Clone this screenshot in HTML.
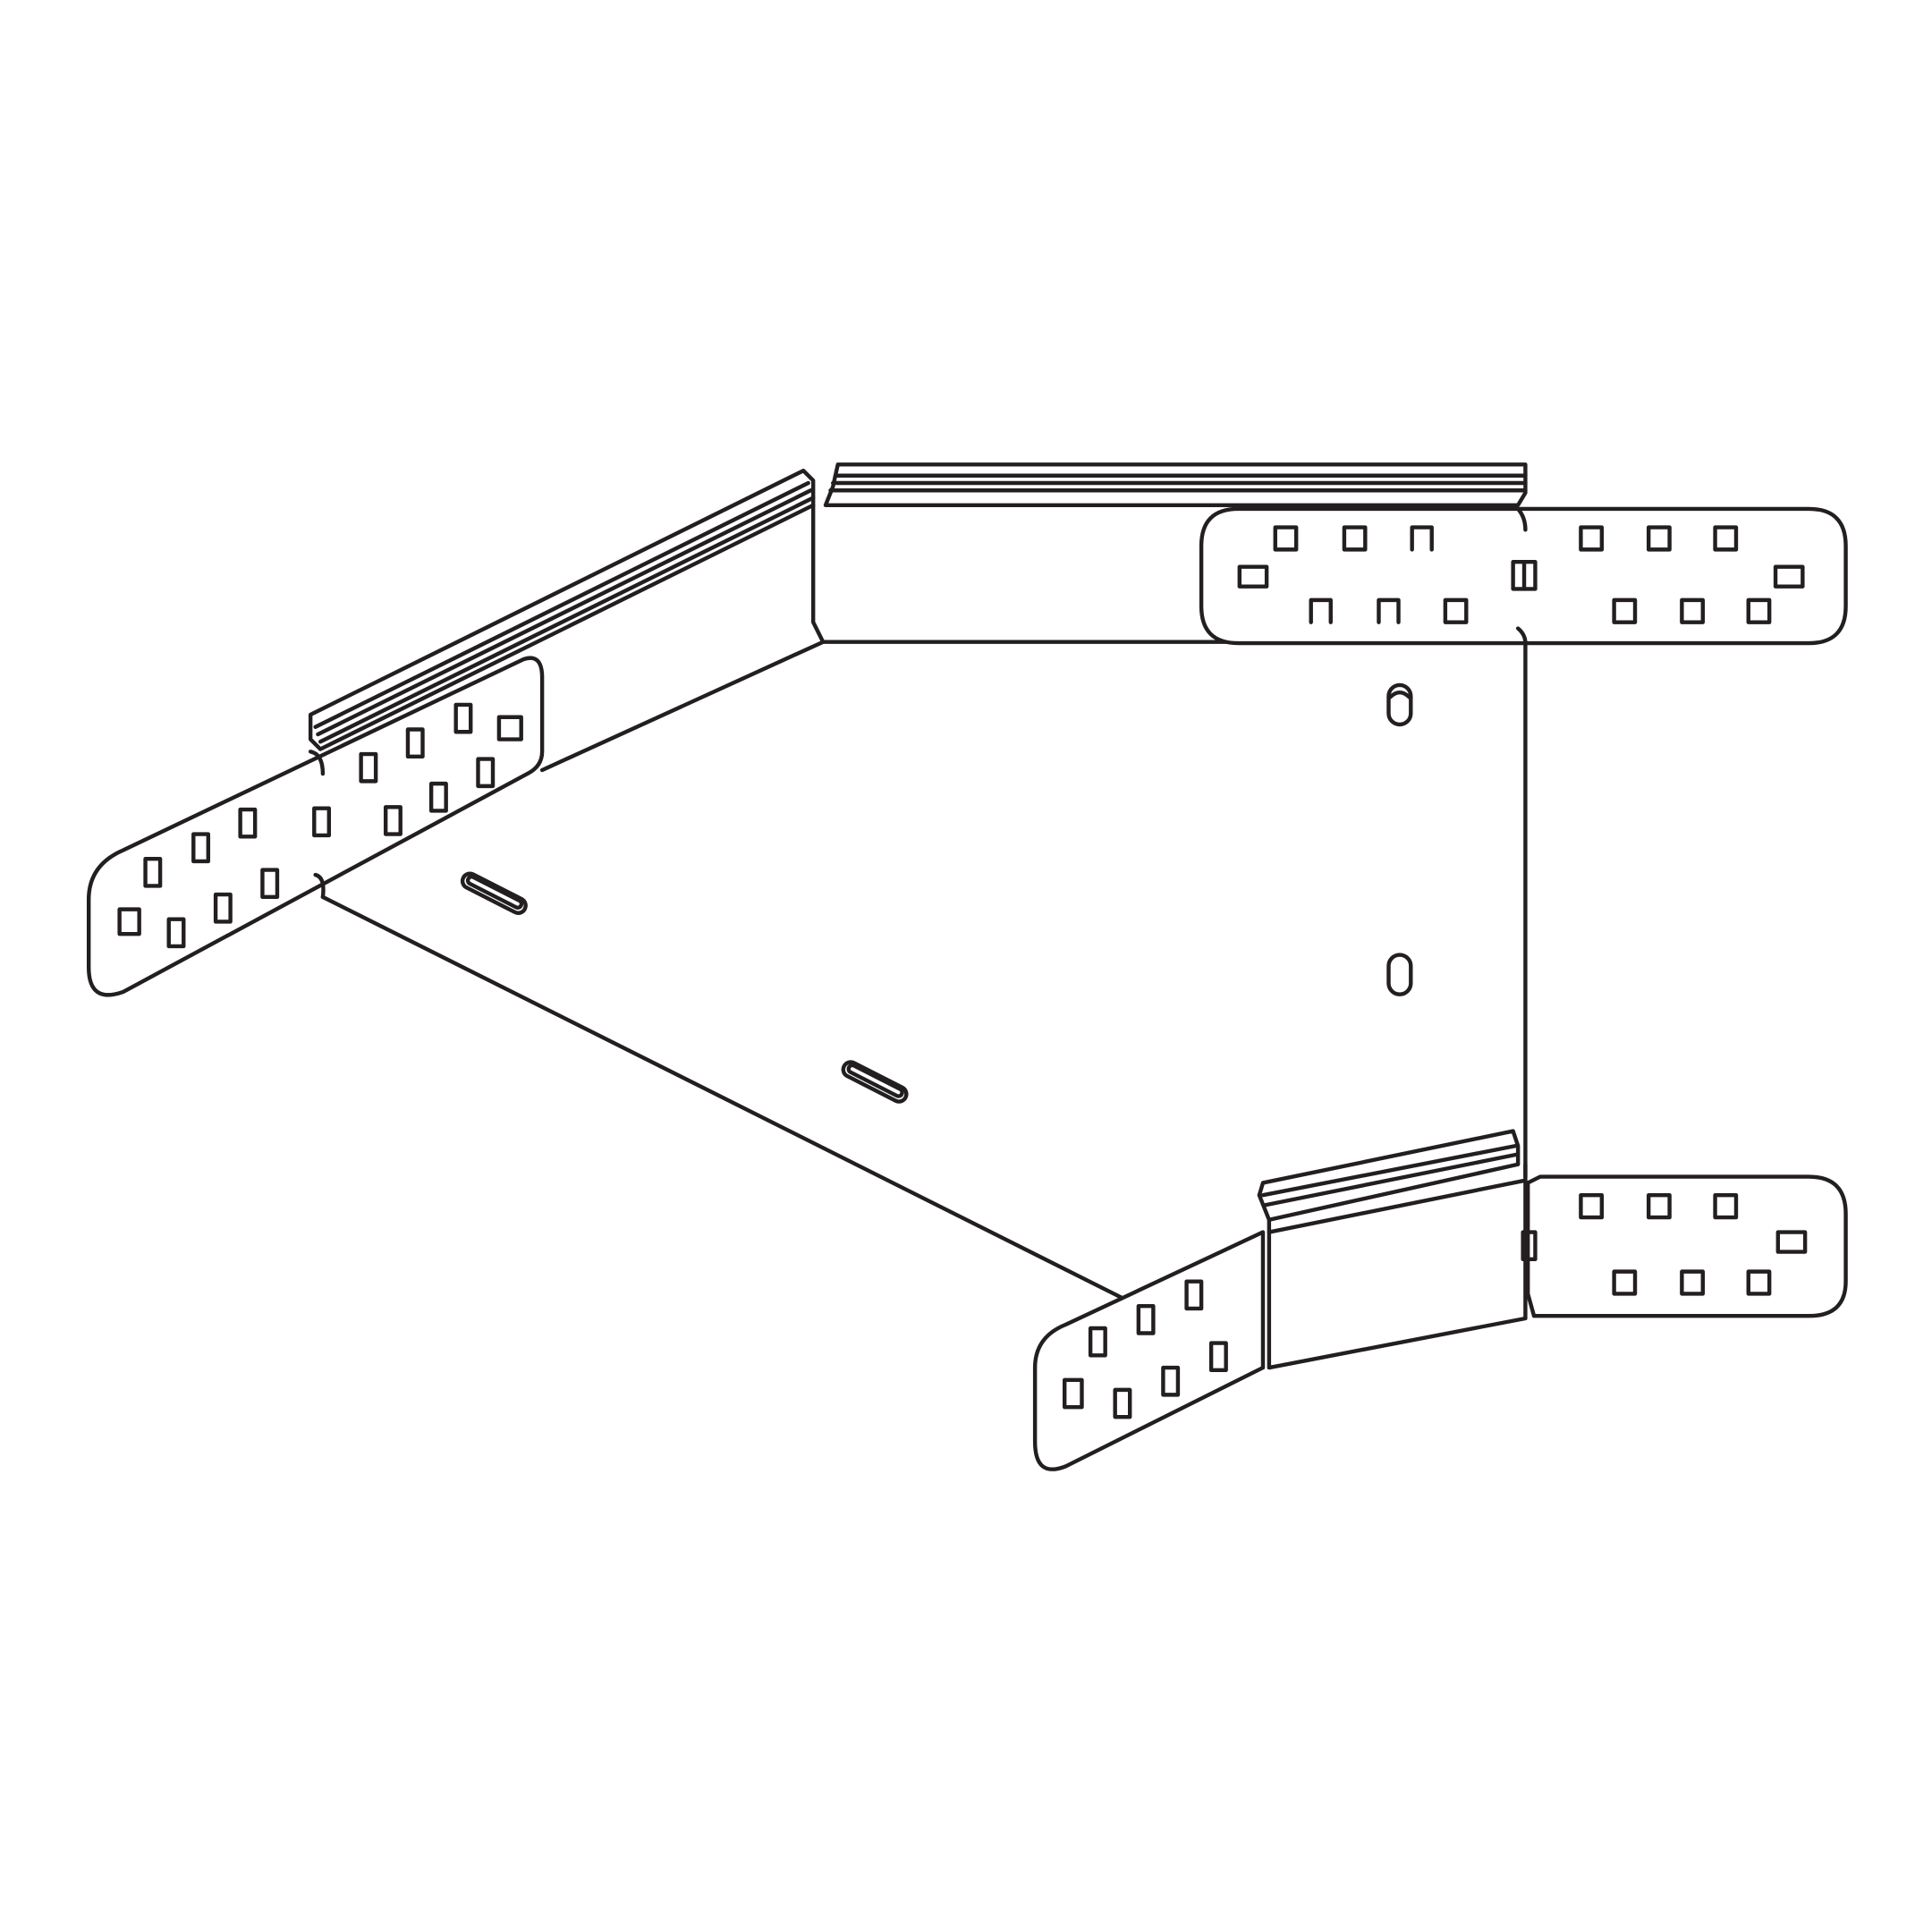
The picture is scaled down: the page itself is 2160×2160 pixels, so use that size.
<!DOCTYPE html>
<html><head><style>html,body{margin:0;padding:0;background:#fff}svg{display:block}</style></head>
<body>
<svg width="2160" height="2160" viewBox="0 0 1568 1568" xmlns="http://www.w3.org/2000/svg" fill="none" stroke="#231f20" stroke-width="3.2" stroke-linejoin="round" stroke-linecap="round">
<rect x="0" y="0" width="1568" height="1568" fill="#fff" stroke="none"/>
<path d="M252 580 L652 382 L660 390 L660 410 L260 608 L252 600 Z" fill="#fff"/>
<path d="M256 590 L656 392 M258 596 L658 398 M260 602 L660 404"/>
<path d="M680 377 L1238 377 L1238 400 L1232 410 L670 410 L676 395 Z" fill="#fff"/>
<path d="M678 386 L1238 386 M676 392 L1238 392 M674 398 L1238 398"/>
<path d="M660 410 L660 505 L668 521 L1000 521"/>
<path d="M440 625 L668 521"/>
<path d="M262 728 L910 1053"/>
<path d="M1238 520 L1238 955"/>
<g transform="rotate(27 401 725)"><rect x="373" y="719" width="56" height="12" rx="6"/><rect x="377" y="721" width="48" height="6" rx="3"/></g>
<g transform="rotate(27 710 878)"><rect x="682" y="872" width="56" height="12" rx="6"/><rect x="686" y="874" width="48" height="6" rx="3"/></g>
<rect x="1127" y="556" width="18" height="32" rx="9"/><path d="M1128 566 Q1136 558 1144 566"/>
<rect x="1127" y="775" width="18" height="32" rx="9"/>
<path d="M1005 413 L1468 413 Q1498 413 1498 443 L1498 492 Q1498 522 1468 522 L1005 522 Q975 522 975 492 L975 443 Q975 413 1005 413 Z" fill="#fff"/>
<path d="M1232 413 Q1238 420 1238 430 M1232 510 Q1238 515 1238 522"/>
<g>
<rect x="1035" y="428" width="17" height="18"/><rect x="1091" y="428" width="17" height="18"/><path d="M1146 446 L1146 428 L1162 428 L1162 446"/>
<rect x="1283" y="428" width="17" height="18"/><rect x="1338" y="428" width="17" height="18"/><rect x="1392" y="428" width="17" height="18"/>
<rect x="1006" y="460" width="22" height="16"/><rect x="1441" y="460" width="22" height="16"/>
<rect x="1228" y="456" width="18" height="22"/><path d="M1237 456 L1237 478"/>
<path d="M1064 505 L1064 487 L1080 487 L1080 505"/><path d="M1119 505 L1119 487 L1135 487 L1135 505"/><rect x="1173" y="487" width="17" height="18"/>
<rect x="1310" y="487" width="17" height="18"/><rect x="1365" y="487" width="17" height="18"/><rect x="1419" y="487" width="17" height="18"/>
</g>
<path d="M100 690 L425 535 Q440 530 440 550 L440 610 Q440 622 428 628 L100 805 Q72 815 72 785 L72 730 Q72 702 100 690 Z" fill="#fff"/>
<path d="M252 610 Q262 612 262 628 M256 710 Q264 712 262 728"/>
<g>
<rect x="118" y="697" width="12" height="22"/>
<rect x="157" y="677" width="12" height="22"/><rect x="195" y="657" width="12" height="22"/>
<rect x="255" y="656" width="12" height="22"/><rect x="293" y="612" width="12" height="22"/><rect x="331" y="592" width="12" height="22"/><rect x="370" y="572" width="12" height="22"/>
<rect x="405" y="582" width="18" height="18"/>
<rect x="97" y="738" width="16" height="20"/><rect x="137" y="746" width="12" height="22"/><rect x="175" y="726" width="12" height="22"/><rect x="213" y="706" width="12" height="22"/>
<rect x="313" y="655" width="12" height="22"/><rect x="350" y="636" width="12" height="22"/><rect x="388" y="616" width="12" height="22"/>
</g>
<path d="M1025 960 L1228 918 L1232 930 L1232 945 L1030 990 L1022 970 Z" fill="#fff"/>
<path d="M1025 970 L1230 930 M1027 978 L1231 937"/>
<path d="M1030 990 L1030 1110 L1238 1070 L1238 945"/>
<path d="M1030 1000 L1238 958"/>
<path d="M1250 955 L1468 955 Q1498 955 1498 985 L1498 1040 Q1498 1068 1468 1068 L1245 1068 L1240 1050 L1240 960 Z" fill="#fff"/>
<rect x="1236" y="1000" width="10" height="22"/>
<rect x="1283" y="970" width="17" height="18"/><rect x="1338" y="970" width="17" height="18"/><rect x="1392" y="970" width="17" height="18"/>
<rect x="1443" y="1000" width="22" height="16"/>
<rect x="1310" y="1032" width="17" height="18"/><rect x="1365" y="1032" width="17" height="18"/><rect x="1419" y="1032" width="17" height="18"/>
<path d="M865 1075 L1025 1000 L1025 1110 L865 1190 Q840 1200 840 1170 L840 1110 Q840 1085 865 1075 Z" fill="#fff"/>
<rect x="885" y="1078" width="12" height="22"/><rect x="924" y="1060" width="12" height="22"/><rect x="963" y="1040" width="12" height="22"/>
<rect x="864" y="1120" width="14" height="22"/><rect x="905" y="1128" width="12" height="22"/><rect x="944" y="1110" width="12" height="22"/><rect x="983" y="1090" width="12" height="22"/>
</svg>
</body></html>
